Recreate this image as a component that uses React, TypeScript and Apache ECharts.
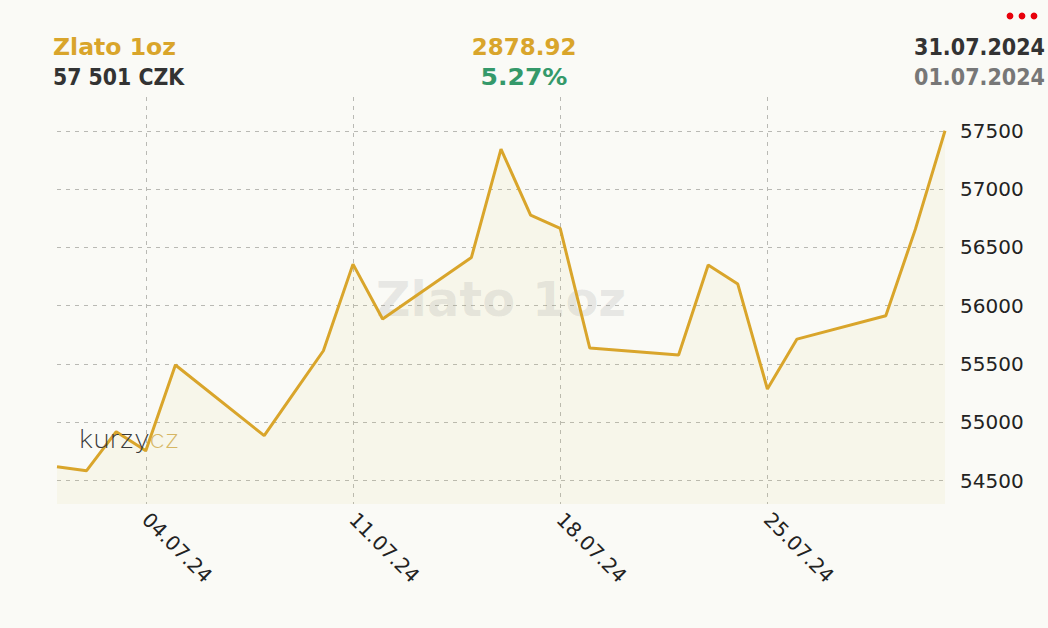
import React, { useEffect, useRef } from "react";
import * as echarts from "echarts";

// ---- data ----
const days = [
  "01.07.24", "02.07.24", "03.07.24", "04.07.24", "05.07.24", "06.07.24", "07.07.24",
  "08.07.24", "09.07.24", "10.07.24", "11.07.24", "12.07.24", "13.07.24", "14.07.24",
  "15.07.24", "16.07.24", "17.07.24", "18.07.24", "19.07.24", "20.07.24", "21.07.24",
  "22.07.24", "23.07.24", "24.07.24", "25.07.24", "26.07.24", "27.07.24", "28.07.24",
  "29.07.24", "30.07.24", "31.07.24",
];
// CZK price per day (null = weekend, no quote)
const prices: (number | null)[] = [
  54620, 54586, 54920, 54757, 55492, null, null,
  54886, 55250, 55614, 56357, 55886, null, null,
  56414, 57343, 56777, 56663, 55637, null, null,
  55577, 56349, 56186, 55286, 55714, null, null,
  55914, 56657, 57501,
];
const labelDays = ["04.07.24", "11.07.24", "18.07.24", "25.07.24"];

const titleText = "Zlato 1oz";
const priceText = "57 501 CZK";
const usdText = "2878.92";
const changeText = "5.27%";
const dateTo = "31.07.2024";
const dateFrom = "01.07.2024";

const GOLD = "#D9A52B";
const FONT = "DejaVu Sans, Verdana, sans-serif";

export default function App() {
  const ref = useRef<HTMLDivElement>(null);

  useEffect(() => {
    if (!ref.current) return;
    const chart = echarts.init(ref.current, undefined, { renderer: "svg" });
    const showIdx = (i: number) => labelDays.indexOf(days[i]) >= 0;
    const dash = { color: "#b9b9b4", type: [4, 5] as any, width: 1 };
    const head = (text: string, x: number, y: number, align: string, fill: string, scaleX: number) => ({
      type: "text",
      x,
      y,
      scaleX,
      style: { text, align, verticalAlign: "middle", fontSize: 23, fontWeight: "bold", fontFamily: FONT, fill },
    });

    chart.setOption({
      animation: false,
      backgroundColor: "#FAFAF6",
      grid: { left: 57, right: 103, top: 97, bottom: 124, containLabel: false },
      xAxis: {
        type: "category",
        data: days,
        boundaryGap: false,
        axisLine: { show: false },
        axisTick: { show: false },
        axisLabel: {
          interval: (i: number) => showIdx(i),
          rotate: -45,
          margin: 12,
          color: "#222",
          fontSize: 20,
          fontFamily: FONT,
        },
        splitLine: { show: true, interval: (i: number) => showIdx(i), lineStyle: dash },
      },
      yAxis: {
        type: "value",
        position: "right",
        min: 54300,
        max: 57790,
        axisLine: { show: false },
        axisTick: { show: false },
        axisLabel: {
          margin: 15,
          color: "#222",
          fontSize: 20,
          fontFamily: FONT,
          showMinLabel: false,
          showMaxLabel: false,
          formatter: (v: number) => String(v),
        },
        splitLine: { show: true, lineStyle: dash, showMinLine: false, showMaxLine: false },
      },
      series: [
        {
          type: "line",
          data: prices,
          connectNulls: true,
          showSymbol: false,
          symbol: "none",
          lineStyle: { color: GOLD, width: 3 },
          areaStyle: { color: "rgba(220,200,100,0.11)" },
          z: 3,
        },
      ],
      graphic: [
        {
          type: "text", x: 501, y: 299, z: 1,
          style: { text: titleText, align: "center", verticalAlign: "middle", fontSize: 48, fontWeight: "bold", fontFamily: FONT, fill: "rgba(105,105,105,0.13)" },
        },
        {
          type: "text", x: 79, y: 439, scaleX: 1.12, z: 4,
          style: {
            text: "{a|kurzy}{b|cz}",
            verticalAlign: "middle",
            rich: {
              a: { fontSize: 25, fontFamily: "Inter, Lato, sans-serif", fontWeight: 200, fill: "#3a3a3a", color: "#3a3a3a" },
              b: { fontSize: 25, fontFamily: "Inter, Lato, sans-serif", fontWeight: 200, fill: "#D6B664", color: "#D6B664" },
            },
          },
        },
        head(titleText, 53, 47, "left", GOLD, 1.025),
        head(priceText, 53, 77, "left", "#333", 0.89),
        head(usdText, 524, 47, "center", GOLD, 1),
        head(changeText, 524, 77, "center", "#34996A", 1.09),
        head(dateTo, 1045, 47, "right", "#333", 0.9),
        head(dateFrom, 1045, 77, "right", "#777", 0.9),
        { type: "circle", shape: { cx: 1010, cy: 16, r: 3.4 }, style: { fill: "#E8000B" } },
        { type: "circle", shape: { cx: 1022, cy: 16, r: 3.4 }, style: { fill: "#E8000B" } },
        { type: "circle", shape: { cx: 1034, cy: 16, r: 3.4 }, style: { fill: "#E8000B" } },
      ],
    });

    return () => chart.dispose();
  }, []);

  return (
    <div
      ref={ref}
      style={{ position: "absolute", left: 0, top: 0, width: 1048, height: 628 }}
    />
  );
}
